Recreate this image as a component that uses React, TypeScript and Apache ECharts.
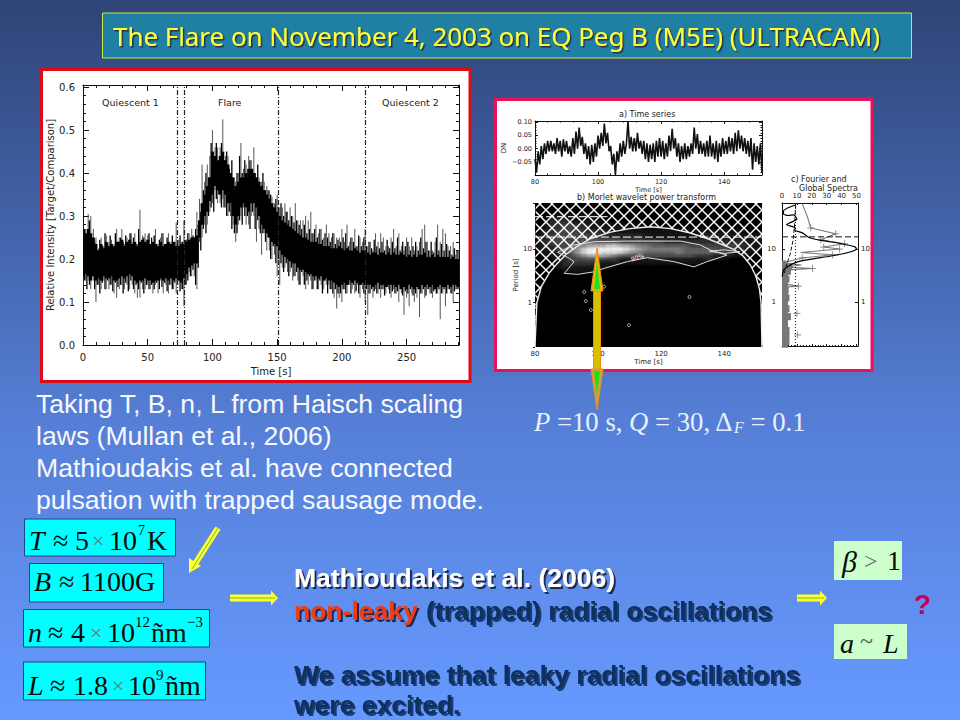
import React, { useEffect, useRef } from "react";
import * as echarts from "echarts";

// ---------- Light curve (main panel): 2 s bins ----------
const lcStep = 2;
const lcSpikeHi = [
  .24,.27,.305,.30,.27,.25,.225,.25,.23,.255, .24,.245,.235,.27,.25,.27,.235,.25,.26,.24,
  .26,.235,.315,.255,.26,.255,.235,.24,.27,.235, .25,.26,.235,.26,.24,.23,.285,.245,.24,.29,
  .245,.26,.27,.25,.31,.34,.42,.38,.42,.44, .50,.46,.46,.46,.525,.44,.44,.40,.38,.38,
  .40,.47,.41,.42,.44,.43,.46,.39,.39,.38, .38,.37,.36,.345,.33,.35,.32,.32,.33,.31,
  .32,.30,.33,.29,.29,.29,.30,.29,.31,.26, .28,.26,.27,.25,.28,.26,.25,.26,.25,.25,
  .27,.24,.28,.24,.25,.27,.23,.25,.24,.27, .23,.24,.22,.26,.24,.26,.25,.23,.23,.25,
  .27,.23,.26,.23,.22,.25,.23,.25,.22,.23, .24,.27,.28,.24,.22,.22,.24,.28,.24,.27,
  .26,.23,.23,.24,.21,.22];
const lcSpikeLo = [
  .14,.15,.15,.13,.15,.10,.14,.13,.15,.13, .13,.14,.12,.11,.13,.14,.13,.14,.13,.14,
  .12,.11,.11,.13,.13,.14,.13,.12,.14,.12, .15,.12,.14,.12,.14,.13,.12,.15,.13,.09,
  .14,.17,.16,.16,.13,.24,.25,.28,.28,.31, .33,.36,.33,.33,.34,.32,.30,.30,.28,.24,
  .28,.30,.32,.28,.28,.30,.30,.24,.27,.21, .26,.22,.22,.20,.21,.16,.14,.18,.18,.17,
  .17,.15,.16,.15,.14,.16,.13,.14,.15,.13, .15,.13,.14,.13,.14,.14,.13,.11,.085,.11,
  .10,.13,.12,.14,.13,.12,.14,.11,.13,.10, .07,.12,.11,.13,.12,.11,.13,.12,.13,.11,
  .13,.12,.10,.12,.07,.11,.09,.12,.10,.11, .065,.12,.11,.13,.12,.11,.13,.12,.06,.12,
  .09,.13,.12,.10,.13,.13];
const lcMidHi = [
  .27,.24,.29,.25,.24,.22,.245,.23,.26,.235, .255,.23,.26,.24,.25,.24,.255,.235,.26,.25,
  .235,.27,.24,.25,.235,.26,.25,.255,.235,.245, .26,.235,.25,.23,.255,.24,.235,.255,.24,.245,
  .26,.24,.255,.27,.28,.31,.36,.40,.39,.47, .42,.47,.41,.47,.43,.45,.41,.43,.36,.40,
  .44,.40,.43,.39,.43,.41,.40,.42,.37,.40, .36,.36,.35,.32,.34,.32,.33,.30,.31,.29,
  .30,.285,.29,.28,.27,.28,.26,.27,.26,.27, .25,.27,.245,.26,.25,.24,.26,.235,.245,.24,
  .25,.26,.23,.25,.24,.23,.255,.23,.25,.23, .24,.225,.245,.23,.225,.24,.22,.245,.225,.24,
  .225,.25,.22,.24,.23,.24,.22,.23,.24,.22, .25,.225,.24,.22,.24,.215,.25,.22,.235,.22,
  .235,.22,.21,.225,.22,.21];
const lcMidLo = [
  .15,.13,.14,.16,.13,.14,.12,.145,.13,.15, .14,.125,.145,.135,.14,.12,.145,.125,.15,.13,
  .14,.13,.145,.12,.14,.13,.14,.13,.145,.13, .135,.145,.125,.14,.13,.145,.14,.125,.13,.14,
  .15,.16,.175,.14,.18,.22,.27,.26,.30,.32, .31,.34,.35,.32,.32,.30,.31,.27,.26,.26,
  .29,.28,.30,.30,.27,.31,.27,.29,.26,.26, .24,.25,.20,.23,.19,.20,.19,.17,.19,.16,
  .18,.16,.17,.14,.17,.14,.15,.16,.13,.15, .13,.15,.12,.15,.12,.13,.12,.13,.12,.12,
  .13,.12,.14,.12,.14,.125,.12,.14,.12,.13, .12,.13,.125,.12,.13,.13,.115,.135,.12,.125,
  .12,.125,.13,.115,.125,.12,.13,.115,.12,.13, .12,.13,.115,.13,.12,.125,.12,.13,.12,.13,
  .12,.13,.12,.125,.13,.12];
const lcCoreHi = [
  .25,.26,.27,.26,.25,.235,.22,.235,.225,.24, .23,.235,.23,.24,.24,.245,.23,.24,.245,.235,
  .24,.23,.24,.245,.24,.245,.235,.24,.235,.23, .24,.23,.235,.24,.235,.24,.23,.23,.235,.235,
  .24,.245,.25,.25,.255,.29,.33,.35,.37,.39, .45,.44,.43,.44,.45,.43,.42,.40,.39,.37,
  .38,.39,.39,.40,.41,.41,.40,.39,.38,.37, .36,.35,.34,.33,.32,.31,.30,.29,.285,.28,
  .275,.27,.265,.26,.255,.25,.25,.245,.24,.24, .24,.235,.235,.23,.23,.23,.225,.225,.225,.23,
  .225,.22,.225,.22,.22,.225,.22,.215,.22,.22, .215,.21,.215,.215,.21,.215,.215,.21,.215,.21,
  .215,.21,.21,.215,.21,.205,.21,.205,.21,.205, .21,.21,.215,.205,.205,.21,.205,.21,.205,.205,
  .205,.205,.2,.205,.2,.2];
const lcCoreLo = [
  .16,.165,.16,.15,.16,.15,.155,.15,.16,.155, .155,.16,.15,.15,.155,.16,.155,.16,.165,.16,
  .15,.145,.15,.15,.155,.15,.15,.145,.15,.15, .155,.15,.155,.15,.155,.15,.155,.15,.145,.155,
  .165,.18,.185,.19,.19,.25,.28,.30,.31,.335, .35,.37,.36,.35,.36,.35,.33,.33,.30,.28,
  .30,.32,.33,.32,.31,.33,.33,.32,.30,.28, .27,.26,.25,.24,.235,.23,.22,.21,.205,.20,
  .195,.19,.19,.18,.175,.175,.17,.165,.165,.16, .16,.155,.16,.15,.155,.15,.15,.145,.14,.135,
  .14,.145,.14,.15,.145,.15,.145,.14,.145,.14, .14,.14,.135,.14,.145,.14,.14,.135,.14,.14,
  .14,.135,.14,.13,.135,.13,.14,.135,.13,.135, .13,.14,.135,.14,.135,.14,.13,.135,.14,.135,
  .135,.14,.135,.14,.14,.135];
const phaseBounds = [73, 78, 151, 218];

// ---------- a) Time series: 0.5 s steps from t = 80 ----------
const tsStart = 80;
const tsStep = 0.5;
const tsValues = [
  -.04,-.09,-.01,-.06,.01,-.04,.02,-.02,.03,-.01, .03,-.01,.02,-.02,.04,-.01,.03,-.03,.035,-.01,
  .03,-.02,.01,-.03,.04,-.02,.065,0,.08,.01, .045,-.02,.02,-.04,.01,-.06,.015,-.05,.02,-.03,
  .05,0,.06,.01,.095,.02,.06,-.01,.01,-.06, -.02,-.1,-.01,-.05,.02,-.03,.03,-.02,.02,.105,
  0,.045,-.01,.04,-.01,.06,0,.03,-.02,.03, -.04,.02,-.05,.015,-.04,.02,-.05,.03,-.03,.04,
  -.03,.03,-.04,.02,-.03,.05,-.01,.075,0,.04, -.03,.02,-.05,.01,-.04,.02,-.04,.01,-.03,.02,
  -.02,.08,0,.055,-.02,.03,-.02,.02,-.03,.03, -.03,.05,-.03,.02,-.04,.03,-.05,.02,-.03,.04,
  -.02,.03,-.02,.045,-.01,.04,-.02,.06,-.01,.07, 0,.05,-.01,.04,-.02,.03,-.03,.04,-.08,.02,
  -.05,.01,-.06,.02,-.09];

// ---------- b) Wavelet power ----------
const wvTimes = [80,82,84,86,88,90,92,94,96,98,100,102,104,106,108,110,112,114,116,118,120,122,124,126,128,130,132,134,136,138,140,142,144,146,148,150,152];
const wvPeriods = [40,32,25,20,16,13,11,9.5,8.2,7,6,5,4.2];
const wvPower = [
  [0,0,0,1,1,1,1,1,1,1,0,0,0,0,0,0,0,0,0,0,0,0,0,0,0,0,0,0,0,0,0,0,0,0,0,0,0],
  [0,0,1,2,2,2,1,1,1,1,1,0,0,0,0,0,0,0,0,0,0,0,0,0,0,0,0,0,0,0,0,0,0,0,0,0,0],
  [0,0,1,2,2,3,3,2,2,1,1,1,1,1,1,1,1,0,0,0,0,0,0,0,0,0,0,0,0,0,0,0,0,0,0,0,0],
  [0,1,2,2,3,3,3,3,2,2,2,2,1,1,1,1,1,1,1,1,1,1,1,1,1,1,1,1,1,1,1,1,1,1,0,0,0],
  [0,1,2,3,3,3,3,3,3,3,3,2,2,2,2,2,2,2,1,1,1,1,1,1,1,1,1,2,2,2,1,1,1,1,1,1,1],
  [0,1,2,3,3,3,3,3,4,4,4,4,4,4,3,3,3,3,3,3,3,2,2,2,2,2,2,2,2,2,2,2,2,2,1,1,1],
  [0,1,2,2,3,3,4,5,6,7,7,7,8,8,7,7,6,5,5,4,4,4,4,4,4,3,3,3,3,3,3,3,3,2,2,1,1],
  [0,1,1,2,3,4,5,6,8,9,9,9,9,9,9,8,7,6,5,5,5,5,5,5,4,4,4,4,4,3,3,3,2,2,1,1,0],
  [0,0,1,1,2,3,4,6,8,9,9,8,8,8,7,6,5,5,4,4,4,4,4,5,4,4,4,4,4,3,3,2,1,1,0,0,0],
  [0,0,0,1,1,2,3,4,5,6,6,6,5,4,3,3,3,3,3,3,3,3,3,3,3,3,2,2,2,1,1,0,0,0,0,0,0],
  [0,0,0,0,1,2,3,3,3,3,3,2,2,2,1,1,1,1,1,1,1,1,1,1,1,1,1,0,0,0,0,0,0,0,0,0,0],
  [0,0,0,0,1,2,2,2,2,2,1,1,1,0,0,0,0,0,0,0,0,0,0,0,0,0,0,0,0,0,0,0,0,0,0,0,0],
  [0,0,0,0,0,1,1,1,1,1,0,0,0,0,0,0,0,0,0,0,0,0,0,0,0,0,0,0,0,0,0,0,0,0,0,0,0],
];
const coneOfInfluence = [[80,.148],[80.2,.3],[80.6,1],[82,2],[84.5,3.6],[87,5.4],[89.8,8],[93,11],[97.7,16],[104,21],[110,24.5],[116.7,26.6],[123,24.5],[129,20.5],[134.6,16],[139,12.5],[143,10],[146,7.5],[148.3,5.1],[150,3.2],[151.2,1.8],[151.7,1],[152,.148]];
const contourMain = [[89.3,3.55],[92.4,5.88],[90.9,6.79],[87.2,8.8],[92.4,12.1],[98.8,13.9],[109.3,14.3],[126.2,14.3],[132.5,12.1],[135.6,9.7],[140.9,7.8],[134.6,5.9],[130.4,4.7],[124,5.9],[115.6,7],[109.3,5.9],[101.9,4.4],[98.8,3.8],[93.5,3.4],[89.3,3.55]];
const contourRight = [[135.3,9.2],[140,9.8],[145,9],[140,8.4],[135.3,9.2]];
const contourSmall = [[95.6,1.6],[96.1,1.07],[97.7,.73],[109.8,.38],[129,1.28],[101.9,2]];
const dashedHigh = [[80,41],[103,41]];
const dashedLow = [[80,17],[152,17]];

// ---------- c) Spectra ----------
const globalSpectrum = [[9,68],[4,60],[1,52],[1,46],[4,43],[8,44],[10,37],[5,31],[3,29],[9,25],[8.5,23],[14,20],[18,16.5],[26,14.6],[40,12.6],[49,11],[50,10],[45,8.7],[33,7.4],[12,5.9],[4,4.7],[1,4],[.2,3]];
const fourierSpectrum = [[13.6,72],[17,41],[19.3,25],[36,19.4],[26,15],[42,12.6],[28,10.9],[38.6,10],[12.5,8.6],[34,7.8],[13.6,6.8],[1,5.5],[13,5],[1,4.6],[20.5,4.3],[1,4],[.5,3.5],[3,2.5],[1,2.2],[11,2],[1,1.9]];
const fourierCrosses = [[19.3,25],[36,19.4],[26,15],[42,12.6],[28,10.9],[38.6,10],[34,7.8],[13.6,6.8],[20.5,4.3],[11,2],[10,.61],[10.5,.24]];
const noisePeriods = [5.2,4.7,4.2,3.8,3.4,3,2.7,2.4,2.1,1.9,1.7,1.5,1.35,1.2,1.05,.95,.85,.75,.67,.6,.53,.47,.42,.37,.33,.29,.26,.23,.2,.18,.16];
const noiseValues = [3,7,5,6,4,4,5,3,4,3,4.5,3,4,5,3.5,4,3,5,3.5,4,6,4,4,3,4,5,4,5,3.5,5,4];
const significance = [[9.2,68],[8.5,30],[7.5,15],[5.5,8],[3,5],[1.5,3.5]];
const whiteNoiseLevel = [[9,.148],[9,74]];
const dashedSpec = [[0,17],[51,17]];

const BLACK = "#111";
const SANS = "'DejaVu Sans', sans-serif";
const ARIAL = "'Liberation Sans', Arial, sans-serif";
const SERIF = "'Liberation Serif', serif";
const NAVY = "#0f3060";
const NAVY_SH = "#1c3a70";
const BODY = "#f8f9ff";

const G_MAIN = { left: 83, top: 85, width: 376, height: 260 };
const G_TS = { left: 535, top: 121, width: 227, height: 54 };
const G_WV = { left: 535, top: 203, width: 227, height: 144 };
const G_SP = { left: 782, top: 203, width: 76, height: 143 };

const logFmt = (v: number) => (Math.abs(v - 1) < 1e-6 || Math.abs(v - 10) < 1e-3 ? String(Math.round(v)) : "");
const lineSt = { show: true, onZero: false, lineStyle: { color: BLACK, width: 1 } };

function xAx(gridIndex: number, extra: any, labelSize: number, tick = 5) {
  return {
    gridIndex, type: "value", axisLine: lineSt, splitLine: { show: false },
    axisTick: { show: true, inside: true, length: tick, lineStyle: { color: BLACK, width: 1 } },
    minorTick: { show: true, splitNumber: 5, length: tick / 2, lineStyle: { color: BLACK } },
    axisLabel: { show: true, fontFamily: SANS, fontSize: labelSize, color: "#222", margin: 4, showMaxLabel: false },
    nameTextStyle: { fontFamily: SANS, fontSize: labelSize, color: "#222" },
    ...extra,
  };
}

function heatCells() {
  const cells: number[][] = [];
  wvPeriods.forEach((p, r) => {
    wvTimes.forEach((t, c) => {
      const v = wvPower[r][c];
      if (!v) return;
      const up = r === 0 ? p * 1.12 : Math.sqrt(p * wvPeriods[r - 1]);
      const dn = r === wvPeriods.length - 1 ? p * 0.92 : Math.sqrt(p * wvPeriods[r + 1]);
      cells.push([t - 1, t + 1, dn, up, v]);
    });
  });
  return cells;
}

function eqText(text: string, x: number, y: number, size: number, o: any = {}) {
  return {
    type: "text", x, y, z: 60,
    style: {
      text, fontFamily: SERIF, fontSize: size, fill: o.fill || "#0a0a0a",
      fontStyle: o.italic ? "italic" : "normal",
      verticalAlign: "middle", align: "left",
    },
  };
}

function slideText(text: string, x: number, y: number, size: number, fill: string, shadow?: string, bold = true, family = ARIAL, shOff = 2) {
  return {
    type: "text", x, y, z: 60,
    style: {
      text, x: 0, y: 0, fontFamily: family, fontSize: size, fontWeight: bold ? "bold" : "normal", fill,
      verticalAlign: "middle", align: "left",
      ...(shadow ? { textShadowColor: shadow, textShadowBlur: 0.6, textShadowOffsetX: shOff, textShadowOffsetY: shOff } : {}),
    },
  };
}

function hArrow(x0: number, x1: number, y: number) {
  return [
    { type: "rect", z: 60, shape: { x: x0, y: y - 3.5, width: x1 - x0 - 6, height: 7 }, style: { fill: "#ffff33" } },
    { type: "polygon", z: 60, shape: { points: [[x1 - 7, y - 7.5], [x1, y], [x1 - 7, y + 7.5]] }, style: { fill: "#ffff33" } },
    { type: "line", z: 61, shape: { x1: x0, y1: y, x2: x1 - 3, y2: y }, style: { stroke: "#70c020", lineWidth: 1 } },
  ];
}

function hatchPattern() {
  const c = document.createElement("canvas");
  c.width = 12; c.height = 12;
  const g = c.getContext("2d")!;
  g.strokeStyle = "#fff"; g.lineWidth = 1.4;
  g.beginPath();
  g.moveTo(-1, -1); g.lineTo(13, 13);
  g.moveTo(-1, 13); g.lineTo(13, -1);
  g.stroke();
  return c;
}

function smallLabel(text: string, x: number, y: number, size: number) {
  return { type: "text", x, y, z: 40, style: { text, fontFamily: SANS, fontSize: size, fill: "#222", verticalAlign: "middle" } };
}

function buildOption(): any {
  const lcData = lcCoreHi.map((hi, i) => [i * lcStep, lcSpikeLo[i], lcSpikeHi[i], lcCoreLo[i], hi, lcMidLo[i], lcMidHi[i]]);
  const tsData = tsValues.map((v, i) => [tsStart + i * tsStep, v]);
  const noiseData = noiseValues.map((v, i) => [0, v, noisePeriods[i]]);

  const graphic: any[] = [
    { type: "rect", z: -10, shape: { x: 41.5, y: 69.5, width: 428.5, height: 312 }, style: { fill: "#fff", stroke: "#dd0a18", lineWidth: 3 } },
    { type: "rect", z: -10, shape: { x: 495.5, y: 99.5, width: 376.5, height: 271 }, style: { fill: "#fff", stroke: "#e8125a", lineWidth: 3 } },
    { type: "rect", z: 50, shape: { x: 102.5, y: 13, width: 809, height: 45 }, style: { fill: "#1f80a4", stroke: "#c8e848", lineWidth: 1 } },
    slideText("The Flare on November 4, 2003 on EQ Peg B (M5E) (ULTRACAM)", 113, 36, 25.9, "#ffff33", "#20304a", false, "'Noto Sans', sans-serif", 1.5),
    smallLabel("Quiescent 1", 102, 102, 9.5),
    smallLabel("Flare", 218, 102, 9.5),
    smallLabel("Quiescent 2", 382, 102, 9.5),
    smallLabel("a) Time series", 619, 114, 8),
    smallLabel("b) Morlet wavelet power transform", 577, 197, 8),
    smallLabel("c) Fourier and", 791, 179, 8),
    smallLabel("Global Spectra", 799, 188, 8),
    { type: "text", x: 631, y: 259, z: 40, rotation: 0.3, style: { text: "90%", fontFamily: SANS, fontSize: 6, fill: "#fff", verticalAlign: "middle" } },
    { type: "rect", z: 70, shape: { x: 593.5, y: 275, width: 7, height: 105 }, style: { fill: "#d8c000", stroke: "#ef8a20", lineWidth: 1 } },
    { type: "polygon", z: 71, shape: { points: [[597, 248], [603, 291], [591, 291]] }, style: { fill: "#d8c000", stroke: "#ef8a20", lineWidth: 1 } },
    { type: "polygon", z: 72, shape: { points: [[597, 262], [600, 289], [594, 289]] }, style: { fill: "#22dd22" } },
    { type: "polygon", z: 71, shape: { points: [[597, 410], [603, 369], [591, 369]] }, style: { fill: "#c8a838", stroke: "#ef8a20", lineWidth: 1 } },
    { type: "polygon", z: 72, shape: { points: [[597, 396], [600, 371], [594, 371]] }, style: { fill: "#22dd22" } },
    slideText("Taking T, B, n, L from Haisch scaling", 36, 404, 26.6, BODY, undefined, false),
    slideText("laws (Mullan et al., 2006)", 36, 436, 26.6, BODY, undefined, false),
    slideText("Mathioudakis et al. have connected", 36, 468, 26.6, BODY, undefined, false),
    slideText("pulsation with trapped sausage mode.", 36, 500, 26.6, BODY, undefined, false),
    {
      type: "text", x: 534, y: 422, z: 60,
      style: {
        text: "{i|P} =10 s, {i|Q} = 30, Δ{s|F} = 0.1", fontFamily: SERIF, fontSize: 26.7, fill: "#e8f0ff", verticalAlign: "middle",
        rich: {
          i: { fontFamily: SERIF, fontStyle: "italic", fontSize: 26.7, fill: "#e8f0ff" },
          s: { fontFamily: SERIF, fontStyle: "italic", fontSize: 16, fill: "#e8f0ff", verticalAlign: "bottom" },
        },
      },
    },
    { type: "rect", z: 50, shape: { x: 24.5, y: 519, width: 151, height: 37 }, style: { fill: "#00ffff", stroke: "#1a4a80", lineWidth: 1 } },
    { type: "rect", z: 50, shape: { x: 29.5, y: 563.5, width: 134, height: 38.5 }, style: { fill: "#00ffff", stroke: "#1a4a80", lineWidth: 1 } },
    { type: "rect", z: 50, shape: { x: 23.5, y: 609.5, width: 186, height: 37.5 }, style: { fill: "#00ffff", stroke: "#1a4a80", lineWidth: 1 } },
    { type: "rect", z: 50, shape: { x: 23.5, y: 662, width: 182, height: 38 }, style: { fill: "#00ffff", stroke: "#1a4a80", lineWidth: 1 } },
    { type: "rect", z: 50, shape: { x: 834, y: 541, width: 68, height: 39 }, style: { fill: "#ccffcc" } },
    { type: "rect", z: 50, shape: { x: 834, y: 624, width: 73, height: 35 }, style: { fill: "#ccffcc" } },
    eqText("T", 29, 540, 28, { italic: true }), eqText("≈", 53, 540, 28), eqText("5", 75, 540, 28), eqText("×", 92, 540, 22, { fill: "#777" }), eqText("10", 109, 540, 28), eqText("7", 138, 530, 14), eqText("K", 147, 540, 28),
    eqText("B", 34, 581, 28, { italic: true }), eqText("≈", 59, 581, 28), eqText("1100G", 80, 581, 28),
    eqText("n", 28, 632, 28, { italic: true }), eqText("≈", 48, 632, 28), eqText("4", 71, 632, 28), eqText("×", 90, 632, 22, { fill: "#777" }), eqText("10", 107, 632, 28), eqText("12", 135, 622, 15), eqText("ñm", 151, 632, 28), eqText("−3", 187, 622, 15),
    eqText("L", 28, 685, 28, { italic: true }), eqText("≈", 50, 685, 28), eqText("1.8", 73, 685, 28), eqText("×", 112, 685, 22, { fill: "#777" }), eqText("10", 128, 685, 28), eqText("9", 156, 675, 15), eqText("ñm", 165, 685, 28),
    eqText("β", 842, 561, 30, { italic: true }), eqText(">", 864, 561, 24, { fill: "#666" }), eqText("1", 887, 560, 28),
    eqText("a", 840, 643, 28, { italic: true }), eqText("~", 860, 641, 24, { fill: "#555" }), eqText("L", 883, 643, 28, { italic: true }),
    slideText("Mathioudakis et al. (2006)", 294, 578, 26.5, "#ffffff", "#1a2a50"),
    slideText("non-leaky", 294, 611, 26.5, "#f03a10", "#1a2a50"),
    slideText("(trapped) radial oscillations", 426, 611, 26.5, NAVY, NAVY_SH),
    slideText("We assume that leaky radial oscillations", 294, 675, 26.5, NAVY, NAVY_SH),
    slideText("were excited.", 294, 704.5, 26.5, NAVY, NAVY_SH),
    { type: "text", x: 914, y: 604, z: 60, style: { text: "?", fontFamily: ARIAL, fontWeight: "bold", fontSize: 28, fill: "#c4005c", verticalAlign: "middle" } },
    ...hArrow(230, 278, 598),
    ...hArrow(797, 827, 598),
    { type: "line", z: 60, shape: { x1: 218, y1: 528, x2: 193, y2: 567 }, style: { stroke: "#ffff33", lineWidth: 6 } },
    { type: "polygon", z: 60, shape: { points: [[189, 573], [189, 558], [201, 566]] }, style: { fill: "#ffff33" } },
    { type: "line", z: 61, shape: { x1: 218, y1: 528, x2: 192, y2: 569 }, style: { stroke: "#70c020", lineWidth: 1 } },
  ];

  return {
    animation: false,
    backgroundColor: new echarts.graphic.LinearGradient(0, 0, 0, 1, [
      { offset: 0, color: "#2e4476" },
      { offset: 0.6, color: "#5680d8" },
      { offset: 1, color: "#6699ff" },
    ]),
    graphic: { elements: graphic },
    grid: [
      { ...G_MAIN, show: false },
      { ...G_TS, show: false },
      { ...G_WV, show: true, backgroundColor: "#000", borderWidth: 0 },
      { ...G_SP, show: false },
    ],
    xAxis: [
      xAx(0, { min: 0, max: 290.5, interval: 50, name: "Time [s]", nameLocation: "middle", nameGap: 21, axisLabel: { fontFamily: SANS, fontSize: 10, color: "#222", margin: 7, showMaxLabel: false } }, 10, 6),
      xAx(0, { min: 0, max: 290.5, interval: 50, position: "top", axisLabel: { show: false } }, 10, 6),
      xAx(1, { min: 80, max: 152, interval: 20, name: "Time [s]", nameLocation: "middle", nameGap: 11, axisLabel: { fontFamily: SANS, fontSize: 6.5, color: "#222", margin: 3, showMaxLabel: false }, nameTextStyle: { fontFamily: SANS, fontSize: 6.5, color: "#222" } }, 7, 3),
      xAx(1, { min: 80, max: 152, interval: 20, position: "top", axisLabel: { show: false } }, 7, 3),
      xAx(2, { min: 80, max: 152, interval: 20, name: "Time [s]", nameLocation: "middle", nameGap: 11, axisLine: { show: false }, axisLabel: { fontFamily: SANS, fontSize: 7, color: "#222", margin: 3, showMaxLabel: false } }, 7, 2),
      xAx(3, { min: 0, max: 51, interval: 10, position: "top" }, 7, 2),
      xAx(3, { min: 0, max: 51, interval: 10, position: "bottom", axisLabel: { show: false } }, 7, 2),
    ],
    yAxis: [
      xAx(0, { min: 0, max: 0.605, interval: 0.1, name: "Relative Intensity [Target/Comparison]", nameLocation: "middle", nameGap: 27, axisLabel: { show: true, fontFamily: SANS, fontSize: 10, color: "#222", margin: 8, showMaxLabel: false, formatter: (v: number) => v.toFixed(1) } }, 10, 6),
      xAx(0, { min: 0, max: 0.605, interval: 0.1, position: "right", axisLabel: { show: false } }, 10, 6),
      xAx(1, { min: -0.1, max: 0.105, interval: 0.05, name: "DN", nameLocation: "middle", nameGap: 28, axisLabel: { show: true, fontFamily: SANS, fontSize: 6.5, color: "#222", margin: 3, showMaxLabel: false, showMinLabel: false, formatter: (v: number) => v.toFixed(2).replace("-", "−") } }, 7, 3),
      xAx(1, { min: -0.1, max: 0.105, interval: 0.05, position: "right", axisLabel: { show: false } }, 7, 3),
      { gridIndex: 2, type: "log", logBase: 10, min: 0.148, max: 74, name: "Period [s]", nameLocation: "middle", nameGap: 16, nameTextStyle: { fontFamily: SANS, fontSize: 7, color: "#222" }, splitLine: { show: false }, axisLine: { show: false }, axisTick: { show: true, length: 2, lineStyle: { color: "#222" } }, axisLabel: { fontFamily: SANS, fontSize: 7, color: "#222", margin: 3, formatter: logFmt } },
      { gridIndex: 3, type: "log", logBase: 10, min: 0.148, max: 74, splitLine: { show: false }, axisLine: lineSt, axisTick: { show: true, inside: true, length: 3, lineStyle: { color: BLACK } }, axisLabel: { fontFamily: SANS, fontSize: 7, color: "#222", margin: 6, formatter: logFmt } },
      { gridIndex: 3, type: "log", logBase: 10, min: 0.148, max: 74, position: "right", splitLine: { show: false }, axisLine: lineSt, axisTick: { show: true, inside: true, length: 3, lineStyle: { color: BLACK } }, axisLabel: { fontFamily: SANS, fontSize: 7, color: "#222", margin: 3, formatter: logFmt } },
    ],
    series: [
      {
        type: "custom", xAxisIndex: 0, yAxisIndex: 0, data: lcData, silent: true, clip: true,
        encode: { x: 0, y: [1, 2, 3, 4, 5, 6] },
        renderItem: (_p: any, api: any) => {
          const t = api.value(0);
          const a = api.coord([t, api.value(1)]);
          const b = api.coord([t, api.value(2)]);
          const c = api.coord([t, api.value(3)]);
          const d = api.coord([t, api.value(4)]);
          const e = api.coord([t + 1, api.value(5)]);
          const f = api.coord([t + 1, api.value(6)]);
          const w = api.size([lcStep, 0])[0];
          return {
            type: "group",
            children: [
              { type: "line", shape: { x1: a[0], y1: a[1], x2: b[0], y2: b[1] }, style: { stroke: "#555", lineWidth: 1 } },
              { type: "line", shape: { x1: e[0], y1: e[1], x2: f[0], y2: f[1] }, style: { stroke: "#000", lineWidth: 1.3 } },
              { type: "rect", shape: { x: d[0] - w / 2 - 0.2, y: d[1], width: w + 0.4, height: c[1] - d[1] }, style: { fill: "#000" } },
            ],
          };
        },
      },
      {
        type: "line", xAxisIndex: 0, yAxisIndex: 0, data: [], silent: true,
        markLine: {
          silent: true, symbol: "none", label: { show: false },
          lineStyle: { color: "#222", type: [5, 2, 1, 2], width: 1.2 },
          data: phaseBounds.map((x) => ({ xAxis: x })),
        },
      },
      { type: "line", xAxisIndex: 2, yAxisIndex: 2, data: tsData, showSymbol: false, silent: true, lineStyle: { color: "#111", width: 1.6 } },
      {
        type: "custom", xAxisIndex: 4, yAxisIndex: 4, data: heatCells(), silent: true, clip: true,
        encode: { x: [0, 1], y: [2, 3] },
        renderItem: (_p: any, api: any) => {
          const a = api.coord([api.value(0), api.value(2)]);
          const b = api.coord([api.value(1), api.value(3)]);
          const g = Math.round(250 * Math.pow(api.value(4) / 9, 1.1));
          const fill = `rgb(${g},${g},${g})`;
          const w = b[0] - a[0];
          const h = a[1] - b[1];
          return {
            type: "group",
            children: [
              { type: "rect", shape: { x: a[0] - w * 0.6, y: b[1] - h * 0.6, width: w * 2.2, height: h * 2.2 }, style: { fill, opacity: 0.22 } },
              { type: "rect", shape: { x: a[0] - w * 0.25, y: b[1] - h * 0.25, width: w * 1.5, height: h * 1.5 }, style: { fill, opacity: 0.4 } },
              { type: "rect", shape: { x: a[0], y: b[1], width: w, height: h }, style: { fill, opacity: 0.6 } },
            ],
          };
        },
      },
      {
        type: "line", xAxisIndex: 4, yAxisIndex: 4, data: coneOfInfluence, showSymbol: false, silent: true, z: 4,
        lineStyle: { color: "#eee", width: 1.4 },
        areaStyle: { origin: "end", opacity: 1, color: { image: hatchPattern(), repeat: "repeat" } },
      },
      { type: "line", xAxisIndex: 4, yAxisIndex: 4, data: contourMain, showSymbol: false, silent: true, z: 5, lineStyle: { color: "#ddd", width: 1 } },
      { type: "line", xAxisIndex: 4, yAxisIndex: 4, data: contourRight, showSymbol: false, silent: true, z: 5, lineStyle: { color: "#ddd", width: 1 } },
      { type: "scatter", xAxisIndex: 4, yAxisIndex: 4, data: contourSmall, silent: true, z: 5, symbol: "circle", symbolSize: 3, itemStyle: { color: "transparent", borderColor: "#ddd", borderWidth: 1 } },
      { type: "line", xAxisIndex: 4, yAxisIndex: 4, data: dashedHigh, showSymbol: false, silent: true, z: 5, lineStyle: { color: "#fff", type: [8, 3], width: 1 } },
      { type: "line", xAxisIndex: 4, yAxisIndex: 4, data: dashedLow, showSymbol: false, silent: true, z: 5, lineStyle: { color: "#fff", type: [8, 3], width: 1 } },
      {
        type: "custom", xAxisIndex: 5, yAxisIndex: 5, data: noiseData, silent: true,
        encode: { x: [0, 1], y: 2 },
        renderItem: (_p: any, api: any) => {
          const a = api.coord([0, api.value(2)]);
          const b = api.coord([api.value(1), api.value(2)]);
          return { type: "rect", shape: { x: a[0], y: a[1] - 3.5, width: b[0] - a[0], height: 7 }, style: { fill: "#777" } };
        },
      },
      { type: "line", xAxisIndex: 5, yAxisIndex: 5, data: fourierSpectrum, showSymbol: false, silent: true, lineStyle: { color: "#777", width: 1.1 } },
      { type: "scatter", xAxisIndex: 5, yAxisIndex: 5, data: fourierCrosses, silent: true, symbol: "path://M0 5H10M5 0V10", symbolSize: 7, itemStyle: { color: "none", borderColor: "#777", borderWidth: 1 } },
      { type: "line", xAxisIndex: 5, yAxisIndex: 5, data: globalSpectrum, showSymbol: false, silent: true, smooth: 0.2, z: 4, lineStyle: { color: "#000", width: 1.2 } },
      { type: "line", xAxisIndex: 5, yAxisIndex: 5, data: significance, showSymbol: false, silent: true, lineStyle: { color: "#111", type: [4, 2], width: 1 } },
      { type: "line", xAxisIndex: 5, yAxisIndex: 5, data: whiteNoiseLevel, showSymbol: false, silent: true, lineStyle: { color: "#111", type: [1, 2], width: 1 } },
      { type: "line", xAxisIndex: 5, yAxisIndex: 5, data: dashedSpec, showSymbol: false, silent: true, lineStyle: { color: "#111", type: [6, 3], width: 1 } },
    ],
  };
}

export default function App() {
  const ref = useRef<HTMLDivElement>(null);
  useEffect(() => {
    if (!ref.current) return;
    const chart = echarts.init(ref.current, undefined, { renderer: "svg" });
    chart.setOption(buildOption());
    return () => chart.dispose();
  }, []);
  return <div ref={ref} style={{ position: "fixed", left: 0, top: 0, width: 960, height: 720 }} />;
}
